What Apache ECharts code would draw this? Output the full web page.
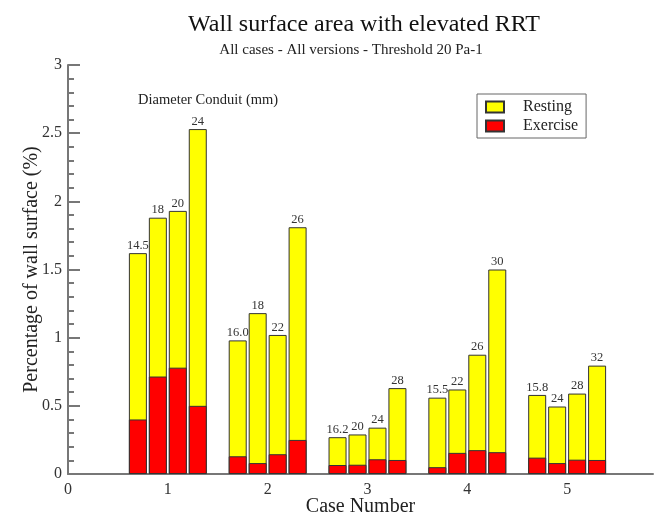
<!DOCTYPE html>
<html>
<head>
<meta charset="utf-8">
<script src="https://cdn.jsdelivr.net/npm/echarts@6/dist/echarts.min.js"></script>
<style>
  html, body { margin: 0; padding: 0; background: #fff; }
  #chart { width: 659px; height: 521px; }
</style>
</head>
<body>
<div id="chart"></div>
<script>
  // case numbers and the four conduit versions in each case
  const cases = [1, 2, 3, 4, 5]
  const versionOffsets = [-0.3, -0.1, 0.1, 0.3]

  // percentage of wall surface, one row per case
  const resting = [
    [1.62, 1.88, 1.93, 2.53],
    [0.98, 1.18, 1.02, 1.81],
    [0.27, 0.29, 0.34, 0.63],
    [0.56, 0.62, 0.875, 1.50],
    [0.58, 0.495, 0.59, 0.795]
  ]
  const exercise = [
    [0.40, 0.715, 0.78, 0.50],
    [0.13, 0.08, 0.145, 0.25],
    [0.066, 0.068, 0.108, 0.103],
    [0.05, 0.155, 0.175, 0.16],
    [0.12, 0.08, 0.105, 0.103]
  ]
  // diameter of conduit (mm) shown above each bar
  const diameters = [
    ['14.5', '18', '20', '24'],
    ['16.0', '18', '22', '26'],
    ['16.2', '20', '24', '28'],
    ['15.5', '22', '26', '30'],
    ['15.8', '24', '28', '32']
  ]

  const serif = '"Liberation Serif", "DejaVu Serif", serif'
  const axisColor = '#777'

  function buildData(values, withLabel) {
    const out = []
    cases.forEach((c, i) => {
      versionOffsets.forEach((off, j) => {
        const item = { value: [c + off, values[i][j]] }
        if (withLabel) item.diameter = diameters[i][j]
        out.push(item)
      })
    })
    return out
  }

  const myChart = echarts.init(document.getElementById('chart'))
  const option = {
    backgroundColor: '#fff',
    animation: false,
    title: [{
      text: 'Wall surface area with elevated RRT',
      left: 359,
      top: 8,
      textAlign: 'center',
      textStyle: { fontFamily: serif, fontSize: 24, fontWeight: 'normal', color: '#111' }
    }, {
      text: 'All cases - All versions - Threshold 20 Pa-1',
      left: 346,
      top: 38,
      textAlign: 'center',
      textStyle: { fontFamily: serif, fontSize: 15, fontWeight: 'normal', color: '#222' }
    }],
    legend: {
      orient: 'vertical',
      left: 477,
      top: 94,
      padding: [5, 8, 4, 8],
      icon: 'rect',
      itemWidth: 18,
      itemHeight: 11,
      itemGap: 3,
      borderColor: '#666',
      borderWidth: 1,
      textStyle: { fontFamily: serif, fontSize: 16, color: '#222', padding: [0, 0, 0, 14] },
      data: ['Resting', 'Exercise']
    },
    graphic: [{
      type: 'text',
      left: 138,
      top: 93,
      style: { text: 'Diameter Conduit (mm)', font: '14.5px ' + serif, fill: '#222' }
    }],
    grid: { left: 68, right: 6, top: 65, bottom: 47, outerBoundsMode: 'none' },
    xAxis: {
      type: 'value',
      min: 0,
      max: 5.86,
      interval: 1,
      name: 'Case Number',
      nameLocation: 'middle',
      nameGap: 23,
      nameMoveOverlap: false,
      nameTextStyle: { fontFamily: serif, fontSize: 20, color: '#222' },
      axisLine: { show: true, lineStyle: { color: axisColor, width: 2 } },
      axisTick: { show: false },
      splitLine: { show: false },
      axisLabel: {
        fontFamily: serif, fontSize: 16, color: '#333', margin: 8,
        showMaxLabel: false,
        formatter: v => (Number.isInteger(v) ? String(v) : '')
      }
    },
    yAxis: {
      type: 'value',
      min: 0,
      max: 3,
      interval: 0.5,
      name: 'Percentage of wall surface (%)',
      nameLocation: 'middle',
      nameGap: 26,
      nameMoveOverlap: false,
      nameTextStyle: { fontFamily: serif, fontSize: 20, color: '#222' },
      axisLine: { show: true, lineStyle: { color: axisColor, width: 2 } },
      axisTick: { show: true, inside: true, length: 12, lineStyle: { color: axisColor, width: 2 } },
      minorTick: { show: true, splitNumber: 5, length: 6, lineStyle: { color: axisColor, width: 2 } },
      splitLine: { show: false },
      axisLabel: { fontFamily: serif, fontSize: 16, color: '#333', margin: 6 }
    },
    series: [{
      name: 'Resting',
      type: 'bar',
      barWidth: 18,
      itemStyle: { color: '#ffff00', borderColor: '#333', borderWidth: 1 },
      label: {
        show: true,
        position: 'top',
        distance: 1,
        fontFamily: serif,
        fontSize: 12.5,
        color: '#333',
        formatter: p => p.data.diameter
      },
      data: buildData(resting, true)
    }, {
      name: 'Exercise',
      type: 'bar',
      barWidth: 18,
      barGap: '-100%',
      itemStyle: { color: '#ff0000', borderColor: '#333', borderWidth: 1 },
      data: buildData(exercise, false)
    }]
  }
  myChart.setOption(option)
</script>
</body>
</html>
